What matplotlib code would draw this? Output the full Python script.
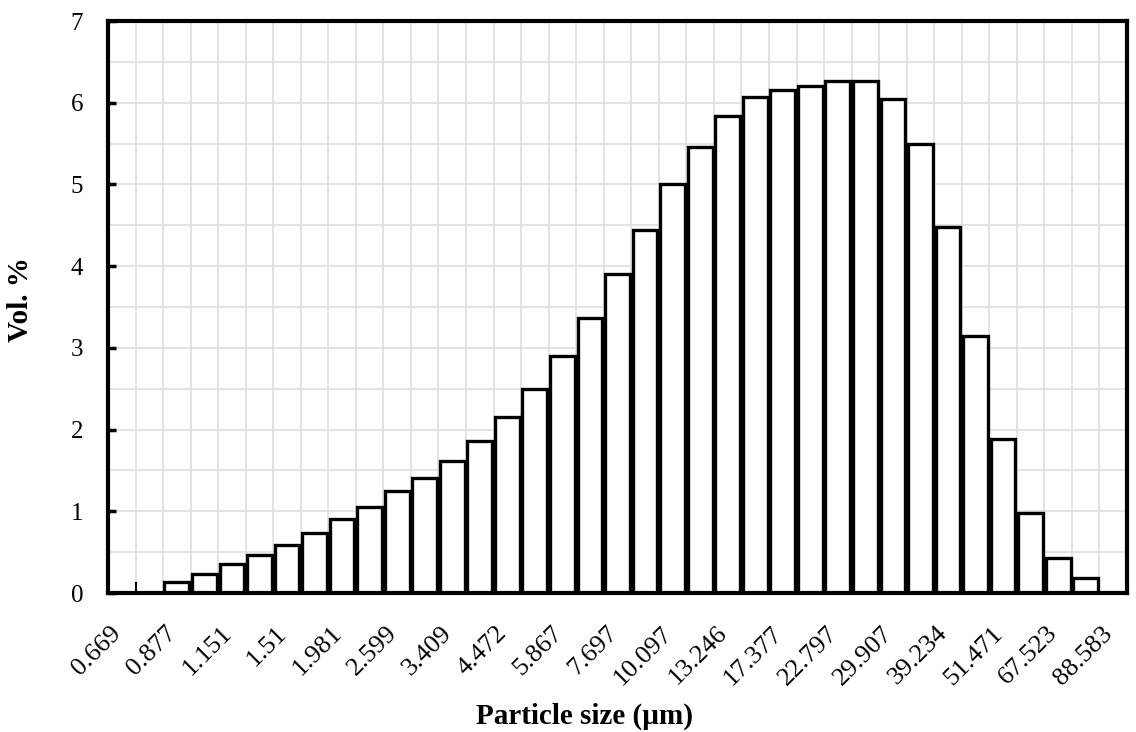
import matplotlib
matplotlib.use("Agg")
import matplotlib.pyplot as plt
import matplotlib.transforms as mtransforms
import numpy as np

# particle size classes (µm), one label every second class
size_labels = ['0.669', '0.877', '1.151', '1.51', '1.981', '2.599', '3.409',
               '4.472', '5.867', '7.697', '10.097', '13.246', '17.377',
               '22.797', '29.907', '39.234', '51.471', '67.523', '88.583']

# volume fraction per class (37 classes)
vol_pct = [0.0, 0.0,
           0.14, 0.23, 0.36, 0.47, 0.59, 0.74, 0.91, 1.05, 1.25, 1.41,
           1.62, 1.86, 2.15, 2.50, 2.90, 3.37, 3.90, 4.44, 5.00, 5.46,
           5.84, 6.07, 6.15, 6.21, 6.26, 6.26, 6.05, 5.50, 4.48, 3.14,
           1.89, 0.98, 0.43, 0.18,
           0.0]

plt.rcParams['font.family'] = ['Liberation Serif', 'DejaVu Serif']

fig = plt.figure(figsize=(11.36, 7.32), dpi=100)
ax = fig.add_axes([108 / 1136, 1 - 593 / 732, 1019 / 1136, 572 / 732])

n = len(vol_pct)
x = np.arange(n) + 0.5
ax.bar(x, vol_pct, width=0.9, color='white', edgecolor='black',
       linewidth=2.4, zorder=3)

ax.set_xlim(0, n)
ax.set_ylim(0, 7)

# grid: every class boundary and every half unit
for b in range(1, n):
    ax.axvline(b, color='#dedede', linewidth=1.2, zorder=1)
for v in np.arange(0.5, 7, 0.5):
    ax.axhline(v, color='#dedede', linewidth=1.2, zorder=1)

ax.set_xticks(x[::2])
ax.set_xticklabels(size_labels, rotation=45, ha='right', va='top',
                   fontsize=19)
ax.set_xticks(np.arange(1, n, 2), minor=True)
ax.tick_params(axis='x', which='major', length=0, pad=21)
ax.tick_params(axis='x', which='minor', direction='in', length=8,
               width=1.5)
shift = mtransforms.ScaledTranslation(4 / 100, 0, fig.dpi_scale_trans)
for lbl in ax.get_xticklabels():
    lbl.set_transform(lbl.get_transform() + shift)

ax.set_yticks(range(0, 8))
ax.tick_params(axis='y', direction='in', length=6, width=2.5,
               labelsize=18, pad=18)

for sp in ax.spines.values():
    sp.set_linewidth(3.0)
    sp.set_zorder(4)

fig.text(21 / 1136, 1 - 300 / 732, 'Vol. %', rotation=90, fontsize=21,
         fontweight='bold', ha='center', va='center')
fig.text(585 / 1136, 1 - 716 / 732, 'Particle size (µm)', fontsize=21,
         fontweight='bold', ha='center', va='center')

fig.savefig('out.png', dpi=100, facecolor='white')
